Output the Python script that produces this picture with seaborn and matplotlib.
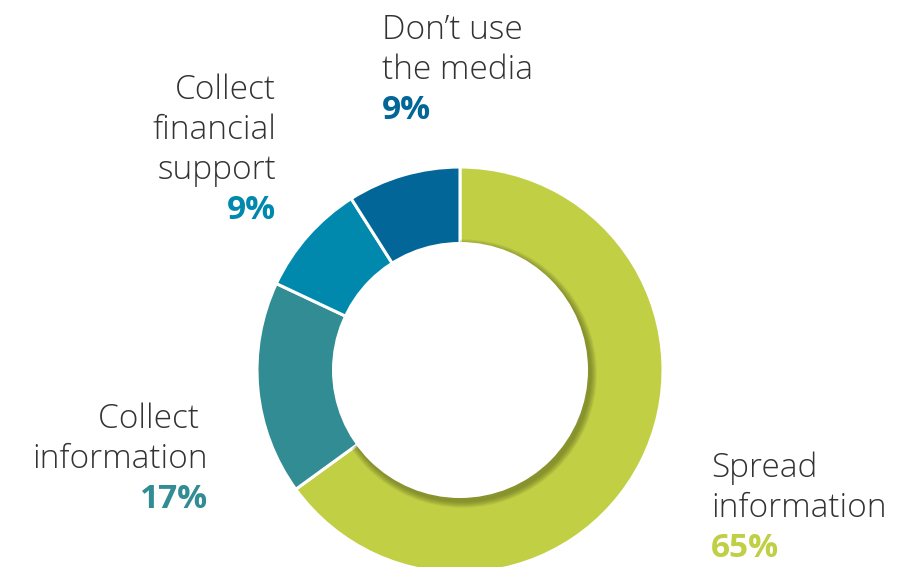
import matplotlib
matplotlib.use("Agg")
import matplotlib.pyplot as plt
from matplotlib.patches import Circle
import seaborn as sns

# Survey shares, in drawing order (clockwise from 12 o'clock)
categories = ["Spread information", "Collect information",
              "Collect financial support", "Don\u2019t use the media"]
shares = [65, 17, 9, 9]
colors = ["#C1CF45", "#318C94", "#0089AD", "#026798"]

# Label lines for each category (as laid out around the ring)
label_lines = [
    ["Spread", "information"],
    ["Collect ", "information"],
    ["Collect", "financial", "support"],
    ["Don\u2019t use", "the media"],
]

W, H = 911, 567
sns.set_theme(style="white")
plt.rcParams["font.family"] = ["Open Sans", "DejaVu Sans"]

fig = plt.figure(figsize=(W / 100, H / 100), dpi=100)
fig.patch.set_facecolor("white")

# Ring geometry in pixels
cx, cy, r_out = 460, 370, 203
r_in = 128 / 203
ax = fig.add_axes([(cx - r_out) / W, (H - cy - r_out) / H, 2 * r_out / W, 2 * r_out / H])

wedges, _ = ax.pie(shares, colors=colors, startangle=90, counterclock=False,
                   radius=1, wedgeprops=dict(edgecolor="white", linewidth=2.2))
ax.set_xlim(-1, 1)
ax.set_ylim(-1, 1)
ax.axis("off")
for w in wedges:
    w.set_clip_on(False)

# Soft shadow cast by the hole onto the large slice
px = 1 / r_out
for k in range(7, 0, -1):
    sh = Circle((2.5 * px, -3.5 * px), r_in + k * px * 0.9, facecolor="#3a4010",
                edgecolor="none", alpha=0.07, zorder=3)
    ax.add_patch(sh)
    sh.set_clip_path(wedges[0])
ax.add_patch(Circle((0, 0), r_in, facecolor="white", edgecolor="none", zorder=4))

def fx(x):
    return x / W

def fy(y):
    return 1 - y / H

text_color = "#333333"
fs = 24
# (x anchor, alignment, first baseline) per category
anchors = [(711, "left", 477), (208, "right", 428), (276, "right", 99), (382, "left", 39)]
step = 40
for lines, share, col, (x, ha, y0) in zip(label_lines, shares, colors, anchors):
    for i, line in enumerate(lines):
        fig.text(fx(x), fy(y0 + i * step), line, ha=ha, va="baseline",
                 fontsize=fs, fontweight="light", color=text_color)
    fig.text(fx(x), fy(y0 + len(lines) * step), f"{share}%", ha=ha, va="baseline",
             fontsize=fs, fontweight="bold", color=col)

fig.savefig("out.png", dpi=100, facecolor="white")
